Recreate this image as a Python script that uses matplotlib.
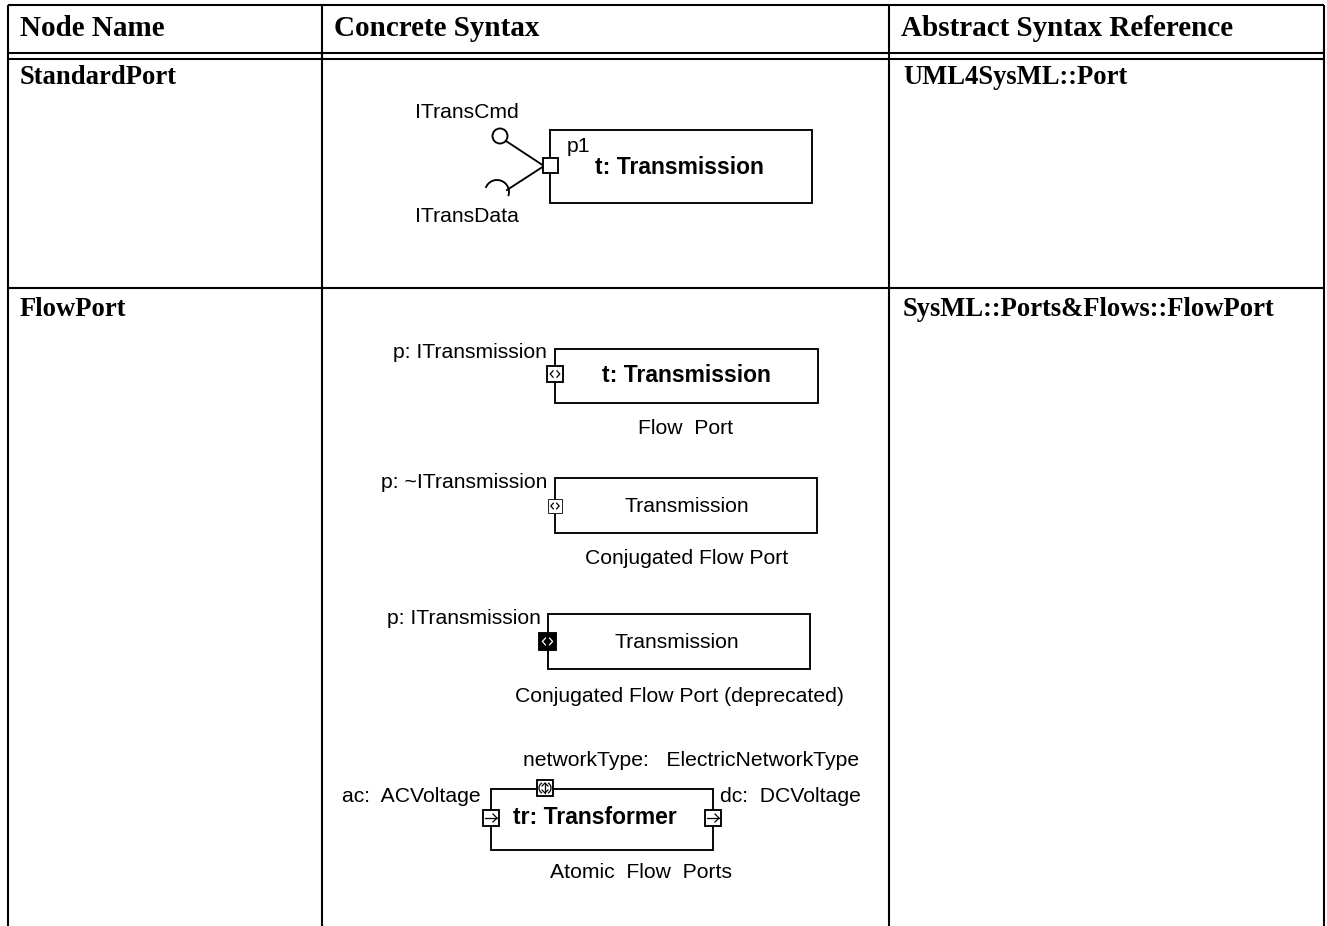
import matplotlib
matplotlib.use('Agg')
import matplotlib.pyplot as plt
from matplotlib.patches import Rectangle, Circle, Arc

# ---------------- data (texts) ----------------
headers = ["Node Name", "Concrete Syntax", "Abstract Syntax Reference"]
node_names = ["StandardPort", "FlowPort"]
references = ["UML4SysML::Port", "SysML::Ports&Flows::FlowPort"]
interfaces = ["ITransCmd", "ITransData"]
port_labels = ["p1", "p: ITransmission", "p: ~ITransmission", "p: ITransmission"]
part_labels = ["t: Transmission", "t: Transmission", "Transmission", "Transmission", "tr: Transformer"]
captions = ["Flow  Port", "Conjugated Flow Port", "Conjugated Flow Port (deprecated)", "Atomic  Flow  Ports"]
atomic_labels = ["networkType:   ElectricNetworkType", "ac:  ACVoltage", "dc:  DCVoltage"]

# ---------------- canvas ----------------
W, H = 1327, 926
fig = plt.figure(figsize=(W / 100, H / 100), dpi=100)
ax = fig.add_axes([0, 0, 1, 1])
ax.set_xlim(0, W)
ax.set_ylim(H, 0)
ax.axis('off')

SERIF = 'Liberation Serif'
SANS = 'Liberation Sans'
TLW = 1.5   # table line width
BLW = 1.35  # box line width

# ---------------- table grid ----------------
col_x = [8, 322, 889, 1324]
for x in col_x:
    ax.plot([x, x], [5, H], color='black', lw=TLW, solid_capstyle='butt')
for y in [5, 53, 59, 288]:
    ax.plot([col_x[0], col_x[-1]], [y, y], color='black', lw=TLW, solid_capstyle='butt')

for x, t in zip(col_x[:3], headers):
    ax.text(x + 12, 28, t, family=SERIF, weight='bold', fontsize=21, va='center', ha='left')

row_y = [78, 310]
for y, n, r in zip(row_y, node_names, references):
    ax.text(col_x[0] + 12, y, n, family=SERIF, weight='bold', fontsize=19.2, va='center', ha='left')
    ax.text(col_x[2] + 14, y, r, family=SERIF, weight='bold', fontsize=19.2, va='center', ha='left')


# ---------------- helpers ----------------
def box(x0, y0, x1, y1, lw=BLW):
    ax.add_patch(Rectangle((x0, y0), x1 - x0, y1 - y0, fc='white', ec='black', lw=lw, zorder=2))


def flow_port(x0, y0, s, dark=False, lw=BLW):
    fc = 'black' if dark else 'white'
    lc = 'white' if dark else 'black'
    ax.add_patch(Rectangle((x0, y0), s, s, fc=fc, ec='black', lw=lw, zorder=4))
    cy = y0 + s / 2
    h = s * 0.2
    ax.plot([x0 + s * 0.38, x0 + s * 0.2, x0 + s * 0.38], [cy - h, cy, cy + h], color=lc, lw=0.9, zorder=5)
    ax.plot([x0 + s * 0.62, x0 + s * 0.8, x0 + s * 0.62], [cy - h, cy, cy + h], color=lc, lw=0.9, zorder=5)


def arrow_port(x0, y0, s):
    ax.add_patch(Rectangle((x0, y0), s, s, fc='white', ec='black', lw=BLW, zorder=4))
    cy = y0 + s / 2
    ax.plot([x0 + 2, x0 + s - 2], [cy, cy], color='black', lw=0.9, zorder=5)
    ax.plot([x0 + s - 6, x0 + s - 2, x0 + s - 6], [cy - 4, cy, cy + 4], color='black', lw=0.9, zorder=5)


def vert_port(x0, y0, s):
    ax.add_patch(Rectangle((x0, y0), s, s, fc='white', ec='black', lw=BLW, zorder=4))
    cx = x0 + s / 2
    ax.plot([cx, cx], [y0 + 3, y0 + s - 3], color='black', lw=0.9, zorder=5)
    ax.plot([cx - 3, cx, cx + 3], [y0 + 6, y0 + 3, y0 + 6], color='black', lw=0.9, zorder=5)
    ax.plot([cx - 3, cx, cx + 3], [y0 + s - 6, y0 + s - 3, y0 + s - 6], color='black', lw=0.9, zorder=5)
    ax.add_patch(Arc((cx, y0 + s / 2), s * 0.75, s * 0.75, theta1=120, theta2=240, color='black', lw=0.9, zorder=5))
    ax.add_patch(Arc((cx, y0 + s / 2), s * 0.75, s * 0.75, theta1=-60, theta2=60, color='black', lw=0.9, zorder=5))


def sans(x, y, t, ha='left', bold=False, size=15.2):
    ax.text(x, y, t, family=SANS, weight='bold' if bold else 'normal', fontsize=size,
            ha=ha, va='center', zorder=6)


BOLD = 16.5

# ---------------- StandardPort ----------------
box(550, 130, 812, 203)
ax.plot([506, 544], [141, 166], color='black', lw=BLW, zorder=3)
ax.add_patch(Circle((500, 136), 7.5, fc='white', ec='black', lw=BLW, zorder=3))
ax.plot([507, 544], [190, 166], color='black', lw=BLW, zorder=3)
ax.add_patch(Arc((497, 192), 24, 24, theta1=200, theta2=380, color='black', lw=BLW, zorder=3))
ax.add_patch(Rectangle((543, 158), 15, 15, fc='white', ec='black', lw=BLW, zorder=4))
sans(415, 113, interfaces[0])
sans(415, 216, interfaces[1])
sans(567, 146, port_labels[0])
sans(679, 168, part_labels[0], ha='center', bold=True, size=BOLD)

# ---------------- FlowPort: flow port ----------------
box(555, 349, 818, 403)
flow_port(547, 366, 16)
sans(547, 353, port_labels[1], ha='right')
sans(686, 375, part_labels[1], ha='center', bold=True, size=BOLD)
sans(686, 429, captions[0], ha='center')

# ---------------- conjugated flow port ----------------
box(555, 478, 817, 533)
flow_port(548, 499, 14, lw=0.6)
sans(547, 482, port_labels[2], ha='right')
sans(687, 506, part_labels[2], ha='center')
sans(687, 559, captions[1], ha='center')

# ---------------- conjugated flow port (deprecated) ----------------
box(548, 614, 810, 669)
flow_port(539, 633, 17, dark=True)
sans(541, 618, port_labels[3], ha='right')
sans(677, 642, part_labels[3], ha='center')
sans(679, 697, captions[2], ha='center')

# ---------------- atomic flow ports ----------------
box(491, 789, 713, 850)
arrow_port(483, 810, 16)
arrow_port(705, 810, 16)
vert_port(537, 780, 16)
sans(523, 760, atomic_labels[0])
sans(481, 796, atomic_labels[1], ha='right')
sans(720, 796, atomic_labels[2])
sans(595, 818, part_labels[4], ha='center', bold=True, size=BOLD)
sans(641, 873, captions[3], ha='center')

fig.savefig('out.png', dpi=100)
